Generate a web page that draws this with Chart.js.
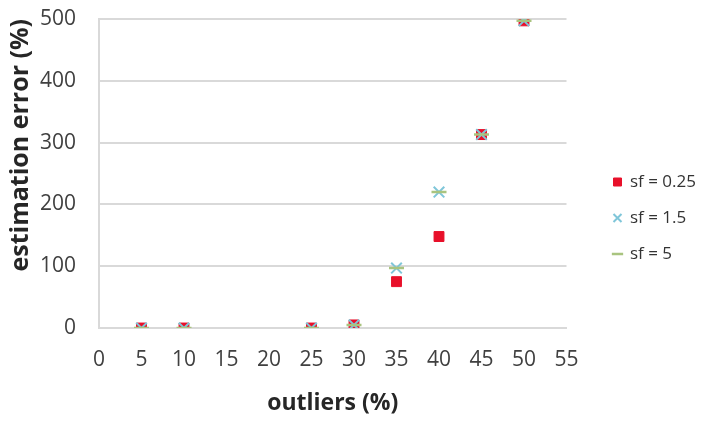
<!DOCTYPE html>
<html>
<head>
<meta charset="utf-8">
<script src="https://cdn.jsdelivr.net/npm/chart.js@4.4.1/dist/chart.umd.min.js"></script>
<style>
  html, body { margin: 0; padding: 0; background: #fff; }
  #wrap { width: 710px; height: 421px; }
</style>
</head>
<body>
<div id="wrap"><canvas id="grafico"></canvas></div>
<script>
const outliers = [5, 10, 25, 30, 35, 40, 45, 50];
const sf025 = [0, 0, 0, 5, 75, 148, 313, 497];
const sf15 = [0, 0, 0, 5, 97, 220, 313, 497];
const sf5 = [0, 0, 0, 5, 97, 220, 313, 497];

function pts(ys) {
    return outliers.map((x, i) => ({ x: x, y: ys[i] }));
}

const ctx = document.getElementById('grafico');

// order: later series drawn on top, like the original
const data = {
    datasets: [{
        label: 'sf = 0.25',
        data: pts(sf025),
        order: 3,
        pointStyle: 'rect',
        pointRadius: 7,
        backgroundColor: '#e8102a',
        borderColor: '#e8102a',
        borderWidth: 1
    }, {
        label: 'sf = 1.5',
        data: pts(sf15),
        order: 2,
        pointStyle: 'crossRot',
        pointRadius: 7.5,
        backgroundColor: '#7fc6d9',
        borderColor: '#7fc6d9',
        borderWidth: 2
    }, {
        label: 'sf = 5',
        data: pts(sf5),
        order: 1,
        pointStyle: 'line',
        pointRadius: 7.5,
        backgroundColor: '#a9c47f',
        borderColor: '#a9c47f',
        borderWidth: 2.5
    }]
};

const options = {
    responsive: true,
    maintainAspectRatio: false,
    animation: false,
    layout: {
        padding: { top: 19, left: 6, right: 4, bottom: 4 }
    },
    plugins: {
        legend: {
            position: 'right',
            labels: {
                usePointStyle: true,
                boxWidth: 8,
                boxHeight: 8,
                color: '#333',
                font: { family: 'Open Sans', size: 17 },
                padding: 19,
                sort: (a, b) => a.datasetIndex - b.datasetIndex
            }
        },
        tooltip: { enabled: false }
    },
    scales: {
        x: {
            type: 'linear',
            min: 0,
            max: 55,
            ticks: {
                stepSize: 5,
                maxRotation: 0,
                color: '#404040',
                font: { family: 'Open Sans', size: 21 },
                padding: 19
            },
            grid: { display: false, drawTicks: false },
            border: { color: '#d9d9d9', width: 2 },
            title: {
                display: true,
                text: 'outliers (%)',
                color: '#262626',
                font: { family: 'Open Sans', size: 23, weight: 'bold' },
                padding: { top: 0, bottom: 0 }
            },
            afterFit(scale) {
                scale.height = 89;
                scale.paddingLeft = 0;
                scale.paddingRight = 0;
            }
        },
        y: {
            min: 0,
            max: 500,
            ticks: {
                stepSize: 100,
                color: '#404040',
                font: { family: 'Open Sans', size: 21 },
                padding: 23
            },
            grid: { color: '#d9d9d9', lineWidth: 2, drawTicks: false },
            border: { color: '#d9d9d9', width: 2 },
            title: {
                display: true,
                text: 'estimation error (%)',
                align: 'end',
                color: '#262626',
                font: { family: 'Open Sans', size: 25, weight: 'bold' },
                padding: 0
            },
            afterFit(scale) {
                scale.width = 93;
                scale.paddingTop = 0;
                scale.paddingBottom = 0;
            }
        },
        gap: {
            position: 'right',
            min: 0,
            max: 1,
            ticks: { display: false },
            grid: { display: false },
            border: { display: false },
            afterFit(scale) {
                scale.width = 28;
            }
        }
    }
};

const myChart = new Chart(ctx, {
    type: 'scatter',
    data: data,
    options: options
});
</script>
</body>
</html>
